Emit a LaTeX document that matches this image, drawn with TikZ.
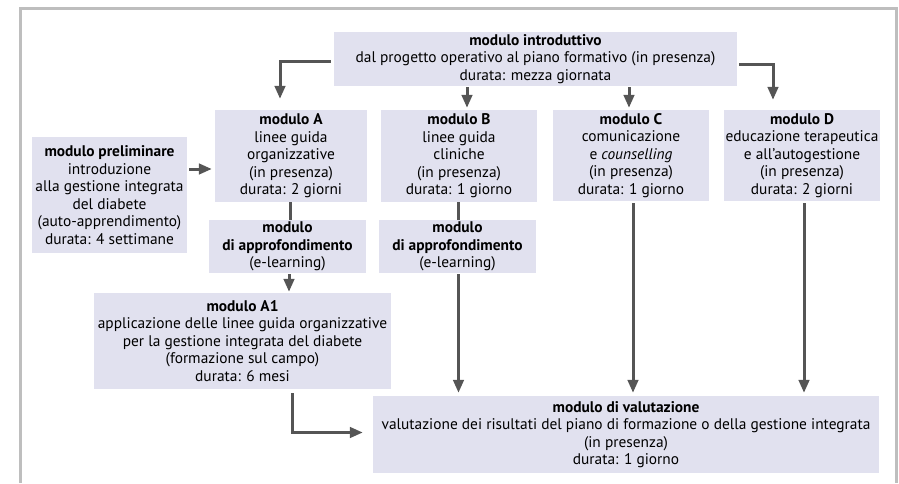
\documentclass[tikz,border=0pt]{standalone}
\usepackage{fontspec}
\setmainfont{PT Sans}
\usetikzlibrary{arrows.meta,calc}
\definecolor{boxfill}{RGB}{225,225,239}
\definecolor{arrgray}{RGB}{85,85,85}
\definecolor{framegray}{RGB}{190,190,190}
\begin{document}
\begin{tikzpicture}[x=1pt,y=-1pt,
  box/.style={fill=boxfill, draw=none, inner sep=0pt, align=center,
    font=\fontsize{15.4}{17.5}\selectfont},
  arr/.style={draw=arrgray, line width=3pt, -{Triangle[length=13pt,width=10.5pt]}},
  ln/.style={draw=arrgray, line width=3pt}]
\useasboundingbox (0,0) rectangle (899,483);
\draw[framegray, line width=3pt] (20,483) -- (20,8) -- (896,8) -- (896,483);

\node[box, minimum width=403pt, minimum height=54pt] (intro) at (535.5,59)
  {\textbf{modulo introduttivo}\\dal progetto operativo al piano formativo (in presenza)\\durata: mezza giornata};
\node[box, minimum width=152pt, minimum height=92pt] (A) at (291,156)
  {\textbf{modulo A}\\linee guida\\organizzative\\(in presenza)\\durata: 2 giorni};
\node[box, minimum width=156pt, minimum height=92pt] (B) at (459,156)
  {\textbf{modulo B}\\linee guida\\cliniche\\(in presenza)\\durata: 1 giorno};
\node[box, minimum width=156pt, minimum height=91pt] (C) at (631,155.5)
  {\textbf{modulo C}\\comunicazione\\e \textit{counselling}\\(in presenza)\\durata: 1 giorno};
\node[box, minimum width=156pt, minimum height=91pt] (D) at (802,155.5)
  {\textbf{modulo D}\\educazione terapeutica\\e all’autogestione\\(in presenza)\\durata: 2 giorni};
\node[box, minimum width=155pt, minimum height=116pt] (pre) at (109.5,195)
  {\textbf{modulo preliminare}\\introduzione\\alla gestione integrata\\del diabete\\(auto-apprendimento)\\durata: 4 settimane};
\node[box, minimum width=157pt, minimum height=53pt] (apA) at (287.5,246.5)
  {\textbf{modulo}\\\textbf{di approfondimento}\\(e-learning)};
\node[box, minimum width=157pt, minimum height=53pt] (apB) at (457.5,246.5)
  {\textbf{modulo}\\\textbf{di approfondimento}\\(e-learning)};
\node[box, minimum width=297pt, minimum height=96pt] (A1) at (242.5,341)
  {\textbf{modulo A1}\\applicazione delle linee guida organizzative\\per la gestione integrata del diabete\\(formazione sul campo)\\durata: 6 mesi};
\node[box, minimum width=506pt, minimum height=77pt] (val) at (626,434.5)
  {\textbf{modulo di valutazione}\\valutazione dei risultati del piano di formazione o della gestione integrata\\(in presenza)\\durata: 1 giorno};

% connectors
\coordinate (pa) at ($(pre.east)+(2,-26)$);
\draw[arr] ($(intro.west)+(-3,2)$) -| ($(A.north)+(-11,-11)$);
\draw[arr] ($(intro.south -| B.north)+(8,1)$) -- ($(B.north)+(8,-2)$);
\draw[arr] ($(intro.south -| C.north)+(-2,1)$) -- ($(C.north)+(-2,-2)$);
\draw[arr] ($(intro.east)+(2,5)$) -| ($(D.north)+(-29,-10)$);
\draw[arr] (pa) -- ($(A.west |- pa)+(-3,0)$);
\draw[ln] ($(A.south)+(-1,0)$) -- ($(A.south |- apA.north)+(-1,0)$);
\draw[ln] ($(B.south)+(-1,0)$) -- ($(B.south |- apB.north)+(-1,0)$);
\draw[arr] ($(apA.south)+(1.5,1)$) -- ($(apA.south |- A1.north)+(1.5,-1)$);
\draw[arr] ($(apB.south)+(1,1)$) -- ($(apB.south |- val.north)+(1,-3)$);
\draw[arr] ($(C.south)+(2,2)$) -- ($(C.south |- val.north)+(2,-3)$);
\draw[arr] ($(D.south)+(2,2)$) -- ($(D.south |- val.north)+(2,-3)$);
\draw[arr] ($(A1.south)+(49.5,4)$) |- ($(val.west)+(-10,-2)$);
\end{tikzpicture}
\end{document}
